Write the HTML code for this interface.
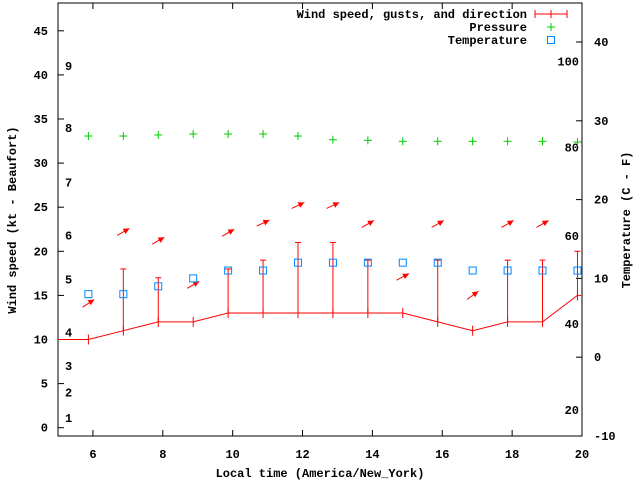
<!DOCTYPE html>
<html><head><meta charset="utf-8"><style>
body{margin:0;background:#fff}
svg{display:block}
text{font-family:"Liberation Mono","DejaVu Sans Mono",monospace;font-weight:bold;font-size:12px;fill:#000}
</style></head><body>
<svg id="chart" width="640" height="480">
</svg>
<script>
const times=[5.87,6.87,7.87,8.87,9.87,10.87,11.87,12.87,13.87,14.87,15.87,16.87,17.87,18.87,19.87];
const wind=[10,11,12,12,13,13,13,13,13,13,12,11,12,12,15];
const gusts=[null,18,17,null,18,19,21,21,19,null,19,null,19,19,20];
const pressure=[33.07,33.07,33.19,33.3,33.3,33.3,33.07,32.65,32.58,32.47,32.47,32.47,32.47,32.47,32.39];
const tempC=[8,8,9,10,11,11,12,12,12,12,12,11,11,11,11];
const arrowY=[14.1,22.2,21.2,16.2,22.1,23.2,25.2,25.2,23.1,17.1,23.1,15,23.1,23.1];
const arrowAng=[33,30,30,30,30,25,25,25,30,28,30,36,30,30];
const xTicks=[6,8,10,12,14,16,18,20];
const yTicks=[0,5,10,15,20,25,30,35,40,45];
const y2Ticks=[-10,0,10,20,30,40];
const beaufort=[1,2,3,4,5,6,7,8,9];
const beaufortY=[1.1,4,7,10.8,16.8,21.8,27.8,34,41];
const fLabels=[20,40,60,80,100];
const fY=[-6.7,4.2,15.4,26.6,37.5];

const L=58,R=582,T=3,B=436;
const X=v=>L+(v-5)/(20-5)*(R-L);
const Y=v=>427.7-v*8.82;
const Y2=v=>357.2-v*7.88;
const svg=document.getElementById('chart');
const NS='http://www.w3.org/2000/svg';
function mk(tag,attrs,parent){const e=document.createElementNS(NS,tag);for(const k in attrs)e.setAttribute(k,attrs[k]);(parent||svg).appendChild(e);return e;}

const frame=mk('rect',{x:L,y:T,width:R-L,height:B-T,fill:'none',stroke:'#000','stroke-width':1});



yTicks.forEach(v=>{
  const ln=mk('line',{x1:L,x2:L+6,y1:Y(v),y2:Y(v),stroke:'#000'});
  
  
  const t=mk('text',{x:L-10,y:Y(v)+4,'text-anchor':'end'});t.textContent=v;
  
  
});
y2Ticks.forEach(v=>{
  const ln=mk('line',{x1:R-6,x2:R,y1:Y2(v),y2:Y2(v),stroke:'#000'});
  
  
  const t=mk('text',{x:R+12,y:Y2(v)+4,'text-anchor':'start'});t.textContent=v;
  
  
});
xTicks.forEach(v=>{
  const a=mk('line',{x1:X(v),x2:X(v),y1:B,y2:B-6,stroke:'#000'});
  
  
  const b=mk('line',{x1:X(v),x2:X(v),y1:T,y2:T+6,stroke:'#000'});
  
  
  const t=mk('text',{x:X(v),y:B+22,'text-anchor':'middle'});t.textContent=v;
  
  
});
beaufort.forEach((b,i)=>{
  const t=mk('text',{x:65,y:Y(beaufortY[i])+4});t.textContent=b;
  
  
});
fLabels.forEach((f,i)=>{
  const t=mk('text',{x:579,y:Y2(fY[i])+4,'text-anchor':'end'});t.textContent=f;
  
  
});

// wind line
const wl=mk('polyline',{points:times.map((t,i)=>X(t)+','+Y(wind[i])).join(' ')+' '+X(20)+','+Y(wind[wind.length-1]),fill:'none',stroke:'#f00'});


const wl0=mk('line',{x1:L,x2:X(times[0]),y1:Y(wind[0]),y2:Y(wind[0]),stroke:'#f00'});


times.forEach((t,i)=>{
  const tk=mk('line',{x1:X(t),x2:X(t),y1:Y(wind[i])-5,y2:Y(wind[i])+5,stroke:'#f00'});
  
  
  if(gusts[i]!=null){
    const g=mk('line',{x1:X(t),x2:X(t),y1:Y(wind[i]),y2:Y(gusts[i]),stroke:'#f00'});
    
    
    const c=mk('line',{x1:X(t)-3,x2:X(t)+3,y1:Y(gusts[i]),y2:Y(gusts[i]),stroke:'#f00'});
    
    
  }
});
// arrows
arrowY.forEach((v,i)=>{
  const cx=X(times[i]),cy=Y(v),a=arrowAng[i]*Math.PI/180,len=14;
  const dx=Math.cos(a)*len/2,dy=Math.sin(a)*len/2;
  const x1=cx-dx,y1=cy+dy,x2=cx+dx,y2=cy-dy;
  const g=mk('g',{});
  
  
  mk('line',{x1:x1,y1:y1,x2:x2,y2:y2,stroke:'#f00'},g);
  const ux=Math.cos(a),uy=-Math.sin(a),px=-uy,py=ux;
  const hx=x2-ux*6,hy=y2-uy*6;
  mk('polygon',{points:`${x2},${y2} ${hx+px*3},${hy+py*3} ${hx-px*3},${hy-py*3}`,fill:'#f00'},g);
});
// pressure
function plus(x,y,col,name){
  const g=mk('g',{stroke:col});
  
  
  mk('line',{x1:x-4,x2:x+4,y1:y,y2:y},g);mk('line',{x1:x,x2:x,y1:y-4,y2:y+4},g);
}
pressure.forEach((p,i)=>plus(X(times[i]),Y(p),'#0c0','pressure-point'));
// temperature
tempC.forEach((c,i)=>{
  const r=mk('rect',{x:X(times[i])-3.5,y:Y2(c)-3.5,width:7,height:7,fill:'none',stroke:'#08f'});
  
  
});
// legend
const lg=mk('g',{});


[['Wind speed, gusts, and direction',14],['Pressure',27],['Temperature',40]].forEach(([s,y])=>{
  const t=mk('text',{x:527,y:y+4,'text-anchor':'end'},lg);t.textContent=s;
  
  
});
mk('line',{x1:535,x2:567,y1:14,y2:14,stroke:'#f00'},lg);
mk('line',{x1:535,x2:535,y1:10,y2:18,stroke:'#f00'},lg);
mk('line',{x1:567,x2:567,y1:10,y2:18,stroke:'#f00'},lg);
mk('line',{x1:551,x2:551,y1:10,y2:18,stroke:'#f00'},lg);
plus(551,27,'#0c0','legend-pressure-symbol');
mk('rect',{x:547.5,y:36.5,width:7,height:7,fill:'none',stroke:'#08f'},lg);
// titles
const xt=mk('text',{x:320,y:477,'text-anchor':'middle'});xt.textContent='Local time (America/New_York)';


const yt=mk('text',{x:0,y:0,'text-anchor':'middle',transform:'translate(16,220) rotate(-90)'});yt.textContent='Wind speed (kt - Beaufort)';


const y2t=mk('text',{x:0,y:0,'text-anchor':'middle',transform:'translate(630,220) rotate(-90)'});y2t.textContent='Temperature (C - F)';


</script>
</body></html>
